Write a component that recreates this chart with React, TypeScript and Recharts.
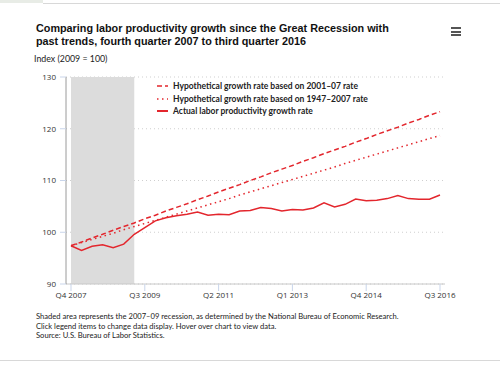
import { LineChart, Line, XAxis, YAxis, CartesianGrid, ReferenceArea, Legend } from 'recharts';

const quarters = [
  'Q4 2007', 'Q1 2008', 'Q2 2008', 'Q3 2008', 'Q4 2008', 'Q1 2009', 'Q2 2009', 'Q3 2009', 'Q4 2009',
  'Q1 2010', 'Q2 2010', 'Q3 2010', 'Q4 2010', 'Q1 2011', 'Q2 2011', 'Q3 2011', 'Q4 2011',
  'Q1 2012', 'Q2 2012', 'Q3 2012', 'Q4 2012', 'Q1 2013', 'Q2 2013', 'Q3 2013', 'Q4 2013',
  'Q1 2014', 'Q2 2014', 'Q3 2014', 'Q4 2014', 'Q1 2015', 'Q2 2015', 'Q3 2015', 'Q4 2015',
  'Q1 2016', 'Q2 2016', 'Q3 2016',
];

const actual = [
  97.4, 96.5, 97.3, 97.6, 97.0, 97.7, 99.6, 100.9, 102.2,
  102.8, 103.2, 103.5, 103.9, 103.3, 103.5, 103.4, 104.1,
  104.2, 104.8, 104.6, 104.1, 104.4, 104.3, 104.7, 105.7,
  104.9, 105.4, 106.4, 106.1, 106.2, 106.5, 107.1, 106.5,
  106.4, 106.4, 107.2,
];

const trend2001 = [
  97.4, 98.1, 98.9, 99.6, 100.4, 101.1, 101.8, 102.6, 103.3,
  104.1, 104.8, 105.5, 106.3, 107.0, 107.8, 108.5, 109.2,
  110.0, 110.7, 111.5, 112.2, 112.9, 113.7, 114.4, 115.2,
  115.9, 116.6, 117.4, 118.1, 118.9, 119.6, 120.3, 121.1,
  121.8, 122.6, 123.3,
];

const trend1947 = [
  97.4, 98.0, 98.6, 99.2, 99.8, 100.5, 101.1, 101.7, 102.3,
  102.9, 103.5, 104.1, 104.7, 105.3, 105.9, 106.5, 107.2,
  107.8, 108.4, 109.0, 109.6, 110.2, 110.8, 111.4, 112.0,
  112.6, 113.3, 113.9, 114.5, 115.1, 115.7, 116.3, 116.9,
  117.5, 118.1, 118.7,
];

const yTicks = [90, 100, 110, 120, 130];

const RED = '#e3262d';

const seriesInfo = [
  { key: 'trend2001', name: 'Hypothetical growth rate based on 2001\u201307 rate', dash: '5 3' },
  { key: 'trend1947', name: 'Hypothetical growth rate based on 1947\u20132007 rate', dash: '1.5 3.5' },
  { key: 'actual', name: 'Actual labor productivity growth rate', dash: undefined },
];

const data = quarters.map((q, i) => ({
  quarter: q,
  actual: actual[i],
  trend2001: trend2001[i],
  trend1947: trend1947[i],
}));

const renderLegend = () => (
  <div style={{ fontFamily: 'Lato', fontWeight: 700, fontSize: 8.5, color: '#222', lineHeight: '12.5px' }}>
    {seriesInfo.map((s) => (
      <div key={s.key} style={{ display: 'flex', alignItems: 'center', whiteSpace: 'nowrap' }}>
        <svg width={16} height={8}>
          <line x1={0} y1={4} x2={11} y2={4} stroke={RED} strokeWidth={s.dash ? 1.5 : 2} strokeDasharray={s.dash} />
        </svg>
        <span>{s.name}</span>
      </div>
    ))}
  </div>
);

const tickStyle = { fontFamily: 'Open Sans', fontSize: 8, fill: '#333' };

export default function App() {
  return (
    <div style={{ position: 'absolute', top: 0, left: 0, width: 500, height: 367, background: '#fff', overflow: 'hidden' }}>
      <div style={{ position: 'absolute', top: 0, left: 0, width: 43, height: 3, background: '#e8ece6' }} />
      <div style={{ position: 'absolute', top: 3, left: 43, width: 457, height: 1, background: '#d8d8d8' }} />
      <div style={{ position: 'absolute', top: 360, left: 0, width: 500, height: 1, background: '#d8d8d8' }} />

      <div style={{ position: 'absolute', top: 22, left: 36, fontFamily: 'Liberation Sans', fontWeight: 700, fontSize: 10.8, lineHeight: '13px', color: '#111' }}>
        Comparing labor productivity growth since the Great Recession with<br />
        past trends, fourth quarter 2007 to third quarter 2016
      </div>
      <div style={{ position: 'absolute', top: 27, left: 451 }}>
        {[0, 1, 2].map((i) => (
          <div key={i} style={{ width: 10, height: 2, background: '#555', marginBottom: 1.5 }} />
        ))}
      </div>
      <div style={{ position: 'absolute', top: 53, left: 34, fontFamily: 'Lato', fontSize: 8.8, color: '#222' }}>
        Index (2009 = 100)
      </div>

      <LineChart
        width={500}
        height={367}
        data={data}
        margin={{ top: 77, right: 55, bottom: 63, left: 36 }}
        style={{ position: 'absolute', top: 0, left: 0 }}
      >
        <ReferenceArea x1="Q4 2007" x2="Q2 2009" y1={90} y2={130} fill="#dcdcdc" fillOpacity={1} stroke="none" ifOverflow="visible" />
        <CartesianGrid vertical={false} stroke="#cfcfcf" strokeDasharray="1 3" />
        <XAxis
          dataKey="quarter"
          interval={6}
          padding={{ left: 5, right: 5 }}
          height={20}
          tick={tickStyle}
          tickSize={7}
          tickMargin={1}
          axisLine={{ stroke: '#c8c8c8' }}
          tickLine={{ stroke: '#c9d5ea' }}
        />
        <YAxis
          domain={[90, 130]}
          ticks={yTicks}
          width={30}
          tick={tickStyle}
          tickSize={6}
          tickMargin={4}
          axisLine={{ stroke: '#9a9a9a' }}
          tickLine={{ stroke: '#c9d5ea' }}
        />
        <Legend
          layout="horizontal"
          verticalAlign="middle"
          align="center"
          content={renderLegend}
          wrapperStyle={{ position: 'absolute', left: 157, top: 80, width: 'auto' }}
        />
        <Line type="linear" dataKey="trend2001" name={seriesInfo[0].name} stroke={RED} strokeWidth={1.5} strokeDasharray="5 3" dot={false} isAnimationActive={false} />
        <Line type="linear" dataKey="trend1947" name={seriesInfo[1].name} stroke={RED} strokeWidth={1.5} strokeDasharray="1.5 3.5" dot={false} isAnimationActive={false} />
        <Line type="linear" dataKey="actual" name={seriesInfo[2].name} stroke={RED} strokeWidth={1.5} dot={false} isAnimationActive={false} />
      </LineChart>

      <div style={{ position: 'absolute', top: 312, left: 36, fontFamily: 'Lato', fontSize: 7.6, lineHeight: '9.5px', color: '#222' }}>
        Shaded area represents the 2007{'\u2013'}09 recession, as determined by the National Bureau of Economic Research.<br />
        Click legend items to change data display. Hover over chart to view data.<br />
        Source: U.S. Bureau of Labor Statistics.
      </div>
    </div>
  );
}
